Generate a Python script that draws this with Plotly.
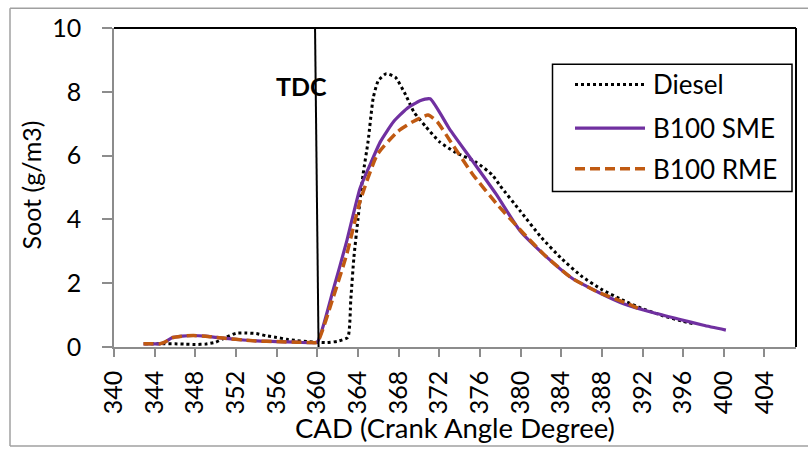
import plotly.graph_objects as go

# ---------------- data ----------------
diesel_cad = [343, 344, 345, 346, 347, 348, 349, 350, 351, 352, 353, 354, 355, 356, 357, 358,
              359, 360, 361, 362, 363, 363.3, 363.6, 364, 364.5, 365, 365.5, 366, 366.8, 367.7,
              368.7, 369.5, 370.7, 372, 373.6, 375.6, 377.2, 378, 380, 382, 384, 386, 388,
              390, 392, 394, 396, 397]
diesel_soot = [0.1, 0.1, 0.1, 0.1, 0.09, 0.08, 0.09, 0.15, 0.3, 0.43, 0.44, 0.42, 0.35, 0.3,
               0.24, 0.2, 0.17, 0.15, 0.14, 0.18, 0.3, 1.5, 2.8, 4.0, 5.4, 6.45, 7.8, 8.35,
               8.57, 8.45, 7.9, 7.37, 6.9, 6.44, 6.1, 5.8, 5.4, 5.05, 4.25, 3.45, 2.78, 2.22,
               1.8, 1.48, 1.2, 0.98, 0.8, 0.73]

sme_cad = [342.9, 343.5, 344.5, 345, 345.7, 346.7, 347.8, 349, 350.1, 351.3, 352.7, 354, 356,
           358, 359.3, 360, 361.55, 362.9, 364.2, 365.2, 366.2, 367.5, 368.8, 370.1, 371.1,
           373.0, 375.3, 377.6, 379.9, 382.5, 385.0, 387.7, 390.2, 392.9, 395.5, 398.0, 400.2]
sme_soot = [0.1, 0.1, 0.1, 0.15, 0.29, 0.34, 0.36, 0.34, 0.3, 0.26, 0.22, 0.19, 0.17, 0.15,
            0.14, 0.15, 1.77, 3.32, 4.97, 5.72, 6.43, 7.06, 7.47, 7.72, 7.78, 6.84, 5.82,
            4.79, 3.66, 2.84, 2.17, 1.71, 1.35, 1.09, 0.88, 0.68, 0.53]

rme_cad = [342.9, 343.5, 344.5, 345, 345.7, 346.7, 347.8, 349, 350.1, 351.3, 352.7, 354, 356,
           358, 359.3, 360, 361.55, 362.9, 364.2, 365.9, 367.9, 369.4, 370.9, 371.8, 373.3,
           375.3, 377.7, 380.3, 382.5, 385.0, 387.7, 391.0, 391.6]
rme_soot = [0.1, 0.1, 0.1, 0.15, 0.29, 0.34, 0.36, 0.34, 0.3, 0.26, 0.22, 0.19, 0.17, 0.15,
            0.14, 0.15, 1.54, 2.91, 4.56, 6.03, 6.75, 7.06, 7.27, 7.06, 6.35, 5.41, 4.47,
            3.56, 2.84, 2.17, 1.71, 1.3, 1.21]

x_ticks = [340, 344, 348, 352, 356, 360, 364, 368, 372, 376, 380, 384, 388, 392, 396, 400, 404]
y_ticks = [0, 2, 4, 6, 8, 10]
series_names = ["Diesel", "B100 SME", "B100 RME"]
tdc_cad = 360

# ---------------- styles ----------------
FONT = "Lato"
FS = 25
GRAY = "#8c8c8c"
styles = [
    dict(color="black", width=3, dash="3px,3px"),
    dict(color="#7030A0", width=3.2, dash="solid"),
    dict(color="#C05A12", width=3.5, dash="10px,5px"),
]

fig = go.Figure()
for name, xs, ys, st in zip(series_names,
                            [diesel_cad, sme_cad, rme_cad],
                            [diesel_soot, sme_soot, rme_soot],
                            styles):
    fig.add_trace(go.Scatter(x=xs, y=ys, mode="lines", name=name,
                             line=dict(**st, shape="spline", smoothing=0.5),
                             showlegend=False, hoverinfo="skip"))

# plot-area geometry (pixels) for paper conversions
L, R, T, B = 114, 12, 25, 103
W, H = 808, 450
pw, ph = W - L - R, H - T - B


def px(xp):
    return (xp - L) / pw


def py(yp):
    return (H - B - yp) / ph


shapes = []
# outer chart frame (gray): left, top, bottom edges
frame = dict(color="#a0a0a0", width=1.5)
shapes.append(dict(type="line", xref="paper", yref="paper",
                   x0=px(10), x1=px(10), y0=py(447), y1=py(5), line=frame))
shapes.append(dict(type="line", xref="paper", yref="paper",
                   x0=px(10), x1=px(808), y0=py(5), y1=py(5), line=frame))
shapes.append(dict(type="line", xref="paper", yref="paper",
                   x0=px(10), x1=px(808), y0=py(447), y1=py(447), line=frame))
# plot area top & right borders (black)
shapes.append(dict(type="line", xref="paper", yref="paper", x0=0, x1=1, y0=1, y1=1,
                   line=dict(color="black", width=2)))
shapes.append(dict(type="line", xref="paper", yref="paper", x0=1, x1=1, y0=0, y1=1,
                   line=dict(color="black", width=2)))
# TDC vertical line
shapes.append(dict(type="line", xref="x", yref="y", x0=tdc_cad - 0.22, y0=10,
                   x1=tdc_cad + 0.13, y1=-0.1, line=dict(color="black", width=2)))

# manual legend
lx0, lx1, ly0, ly1 = 552.5, 792, 190, 61.5
shapes.append(dict(type="rect", xref="paper", yref="paper",
                   x0=px(lx0), x1=px(lx1), y0=py(ly0), y1=py(ly1),
                   line=dict(color="black", width=1.5), fillcolor="white"))
rows = [82, 126, 167]
annotations = []
for name, st, ry in zip(series_names, styles, rows):
    shapes.append(dict(type="line", xref="paper", yref="paper",
                       x0=px(575), x1=px(645), y0=py(ry), y1=py(ry),
                       line=dict(color=st["color"], width=st["width"], dash=st["dash"])))
    annotations.append(dict(text=name, xref="paper", yref="paper", x=px(651), y=py(ry),
                            xanchor="left", yanchor="middle", showarrow=False,
                            font=dict(family=FONT, size=26, color="black")))

# axis titles
annotations.append(dict(text="CAD (Crank Angle Degree)", xref="paper", yref="paper",
                        x=px(455), y=py(428), xanchor="center", yanchor="middle",
                        showarrow=False, font=dict(family=FONT, size=27.5, color="black")))
annotations.append(dict(text="Soot (g/m3)", xref="paper", yref="paper",
                        x=px(31), y=py(184), xanchor="center", yanchor="middle",
                        textangle=-90, showarrow=False,
                        font=dict(family=FONT, size=FS, color="black")))
# TDC label
annotations.append(dict(text="<b>TDC</b>", xref="paper", yref="paper",
                        x=px(301.5), y=py(84), xanchor="center", yanchor="middle",
                        showarrow=False, font=dict(family=FONT, size=FS, color="black")))

fig.update_layout(
    width=W, height=H,
    margin=dict(l=L, r=R, t=T, b=B, pad=0),
    paper_bgcolor="white", plot_bgcolor="white",
    font=dict(family=FONT, size=FS, color="black"),
    shapes=shapes, annotations=annotations, showlegend=False,
    xaxis=dict(range=[340, 407.1], tickmode="array", tickvals=x_ticks,
               ticktext=[str(v) for v in x_ticks], tickangle=-90,
               ticks="outside", ticklen=8, tickwidth=1.5, tickcolor=GRAY,
               showline=True, linecolor=GRAY, linewidth=1.5,
               showgrid=False, zeroline=False, ticklabelstandoff=4,
               tickfont=dict(family=FONT, size=FS, color="black")),
    yaxis=dict(range=[0, 10], tickmode="array", tickvals=y_ticks,
               ticks="outside", ticklen=10, tickwidth=1.5, tickcolor=GRAY,
               showline=True, linecolor=GRAY, linewidth=1.5,
               showgrid=False, zeroline=False, ticklabelstandoff=16,
               tickfont=dict(family=FONT, size=FS, color="black")),
)

fig.write_html("out.html")
